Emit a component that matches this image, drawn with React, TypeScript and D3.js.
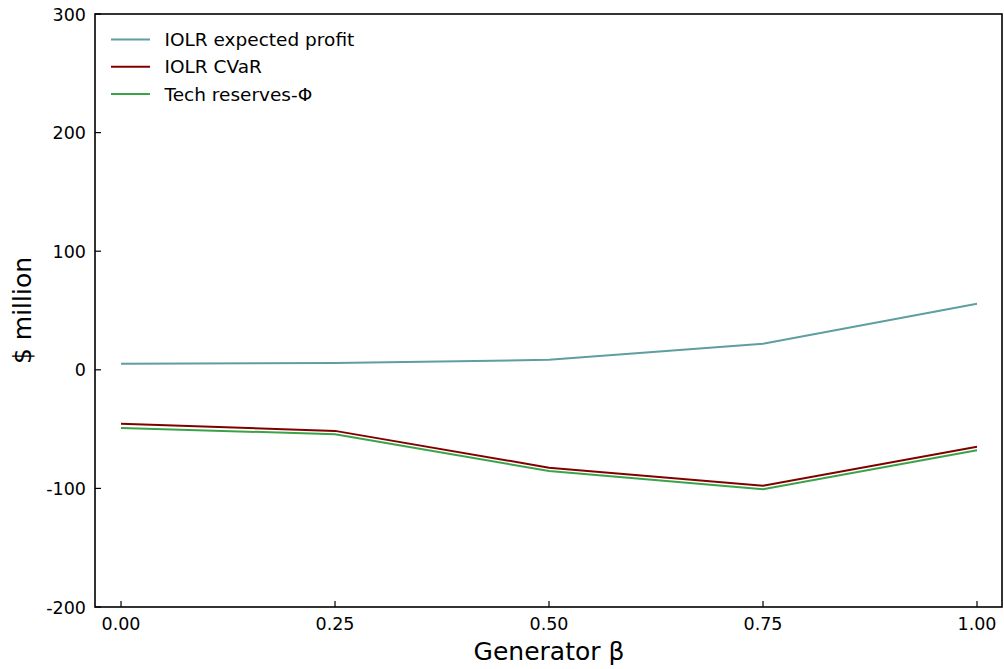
import React from "react";
import * as d3 from "d3";

const betas = [0, 0.25, 0.5, 0.75, 1.0];
const expectedProfit = [5.1, 5.7, 8.4, 22.0, 55.7];
const cvar = [-45.5, -51.5, -82.5, -97.8, -64.8];
const techReserves = [-49.0, -54.3, -85.3, -100.8, -67.8];
const xTicks = [0, 0.25, 0.5, 0.75, 1.0];
const yTicks = [-200, -100, 0, 100, 200, 300];

const seriesList = [
  { name: "IOLR expected profit", values: expectedProfit, color: "#5f9ea0" },
  { name: "IOLR CVaR", values: cvar, color: "#800000" },
  { name: "Tech reserves-Φ", values: techReserves, color: "#3aa348" },
];

const W = 1004;
const H = 669;
const m = { left: 95, right: 2, top: 14, bottom: 62 };
const font = "'DejaVu Sans', sans-serif";

export default function App() {
  const x = d3.scaleLinear().domain([-0.0304, 1.0292]).range([m.left, W - m.right]);
  const y = d3.scaleLinear().domain([-200, 300]).range([H - m.bottom, m.top]);
  const line = d3
    .line<number>()
    .x((_, i) => x(betas[i]))
    .y((d) => y(d));

  return (
    <svg
      width={W}
      height={H}
      style={{ position: "absolute", left: 0, top: 0, background: "#fff", fontFamily: font }}
    >
      {seriesList.map((s) => (
        <path key={s.name} d={line(s.values) ?? ""} fill="none" stroke={s.color} strokeWidth={2} />
      ))}
      <rect
        x={m.left}
        y={m.top}
        width={W - m.right - m.left}
        height={H - m.bottom - m.top}
        fill="none"
        stroke="#000"
        strokeWidth={1.6}
      />
      {xTicks.map((t) => (
        <g key={t}>
          <line x1={x(t)} x2={x(t)} y1={H - m.bottom} y2={H - m.bottom - 6} stroke="#000" strokeWidth={1.2} />
          <text x={x(t)} y={H - m.bottom + 23} textAnchor="middle" fontSize={17.5}>
            {t.toFixed(2)}
          </text>
        </g>
      ))}
      {yTicks.map((t) => (
        <g key={t}>
          <line x1={m.left} x2={m.left + 6} y1={y(t)} y2={y(t)} stroke="#000" strokeWidth={1.2} />
          <text x={m.left - 9} y={y(t) + 6.5} textAnchor="end" fontSize={17.5}>
            {t}
          </text>
        </g>
      ))}
      <text x={549} y={660} textAnchor="middle" fontSize={25}>
        Generator β
      </text>
      <text
        transform={`translate(31, ${(m.top + H - m.bottom) / 2}) rotate(-90)`}
        textAnchor="middle"
        fontSize={25}
      >
        $ million
      </text>
      {seriesList.map((s, i) => (
        <g key={s.name} transform={`translate(111, ${39.5 + i * 27.3})`}>
          <line x1={0} x2={39} y1={0} y2={0} stroke={s.color} strokeWidth={2} />
          <text x={53.5} y={6.5} fontSize={18.5}>
            {s.name}
          </text>
        </g>
      ))}
    </svg>
  );
}
